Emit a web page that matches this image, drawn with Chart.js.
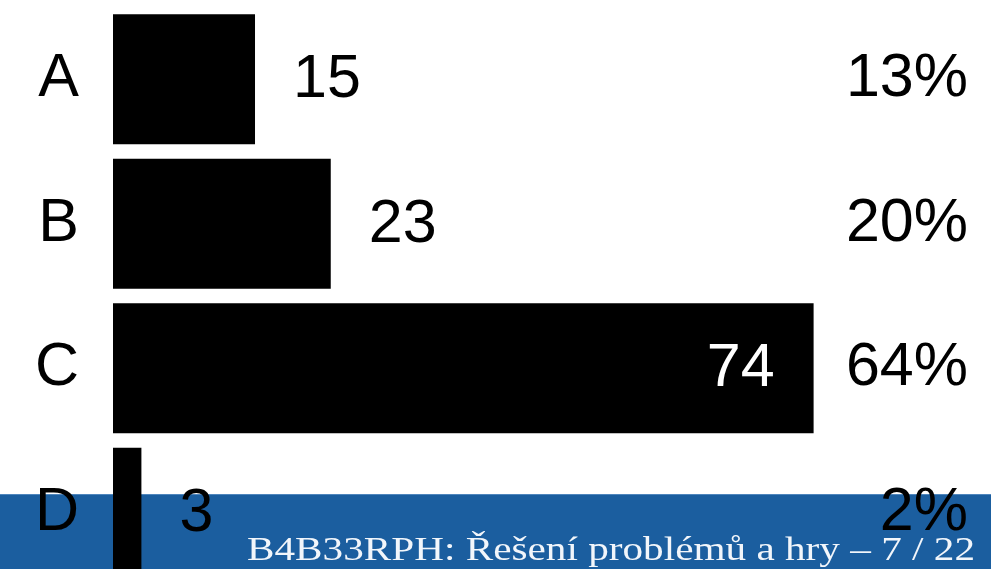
<!DOCTYPE html>
<html>
<head>
<meta charset="utf-8">
<script src="https://cdn.jsdelivr.net/npm/chart.js@4"></script>
<style>
html,body{margin:0;padding:0;overflow:hidden;background:#fff;}
#wrap{position:absolute;left:0;top:0;width:991px;height:600px;}
</style>
</head>
<body>
<div id="wrap"><canvas id="c"></canvas></div>
<script>
const categories = ['A', 'B', 'C', 'D'];
const counts = [15, 23, 74, 3];
const percentLabels = ['13%', '20%', '64%', '2%'];
const footerText = 'B4B33RPH: Řešení problémů a hry – 7 / 22';

const FONT = '"Liberation Sans", Arial, sans-serif';

const bandPlugin = {
  id: 'band',
  beforeDraw(chart) {
    const ctx = chart.ctx;
    ctx.save();
    ctx.fillStyle = '#1b5e9f';
    ctx.fillRect(0, 494, chart.width, chart.height - 494);
    ctx.fillStyle = '#4f86bd';
    ctx.fillRect(0, 494, chart.width, 1);
    ctx.restore();
  },
  afterDraw(chart) {
    const ctx = chart.ctx;
    ctx.save();
    ctx.font = '34px "Liberation Serif", "Times New Roman", serif';
    ctx.fillStyle = '#f2f6fb';
    ctx.textBaseline = 'alphabetic';
    ctx.textAlign = 'left';
    const w = ctx.measureText(footerText).width;
    const target = 728;
    ctx.translate(247, 560);
    ctx.scale(target / w, 1);
    ctx.fillText(footerText, 0, 0);
    ctx.restore();
  }
};

const valuePlugin = {
  id: 'values',
  afterDatasetsDraw(chart) {
    const ctx = chart.ctx;
    const meta = chart.getDatasetMeta(0);
    ctx.save();
    ctx.font = '61px ' + FONT;
    ctx.textBaseline = 'middle';
    meta.data.forEach((bar, i) => {
      const txt = String(counts[i]);
      const len = bar.x - bar.base;
      if (len > 400) {
        ctx.fillStyle = '#ffffff';
        ctx.textAlign = 'right';
        ctx.fillText(txt, bar.x - 39, bar.y + 1);
      } else {
        ctx.fillStyle = '#000000';
        ctx.textAlign = 'left';
        ctx.fillText(txt, bar.x + 38, bar.y + 1);
      }
    });
    ctx.restore();
  }
};

function noVertPad(scale) { scale.paddingTop = 0; scale.paddingBottom = 0; }

new Chart(document.getElementById('c'), {
  type: 'bar',
  data: {
    labels: categories,
    datasets: [{
      data: counts,
      backgroundColor: '#000000',
      borderWidth: 0,
      categoryPercentage: 0.9,
      barPercentage: 1.0,
      yAxisID: 'y'
    }]
  },
  options: {
    indexAxis: 'y',
    responsive: true,
    maintainAspectRatio: false,
    animation: false,
    layout: { padding: { left: 35, right: 23, top: 7, bottom: 15 } },
    plugins: { legend: { display: false }, tooltip: { enabled: false } },
    scales: {
      x: { display: false, min: 0, max: 75.3 },
      y: {
        type: 'category',
        position: 'left',
        grid: { display: false, drawTicks: false },
        border: { display: false },
        ticks: { color: '#000', font: { size: 61, family: FONT }, padding: 34 },
        afterFit: function (scale) { noVertPad(scale); scale.width = 78; }
      },
      y2: {
        type: 'category',
        position: 'right',
        labels: percentLabels,
        offset: true,
        grid: { display: false, drawTicks: false },
        border: { display: false },
        ticks: { color: '#000', font: { size: 61, family: FONT }, padding: 10, crossAlign: 'far' },
        afterFit: noVertPad
      }
    }
  },
  plugins: [bandPlugin, valuePlugin]
});
</script>
</body>
</html>
